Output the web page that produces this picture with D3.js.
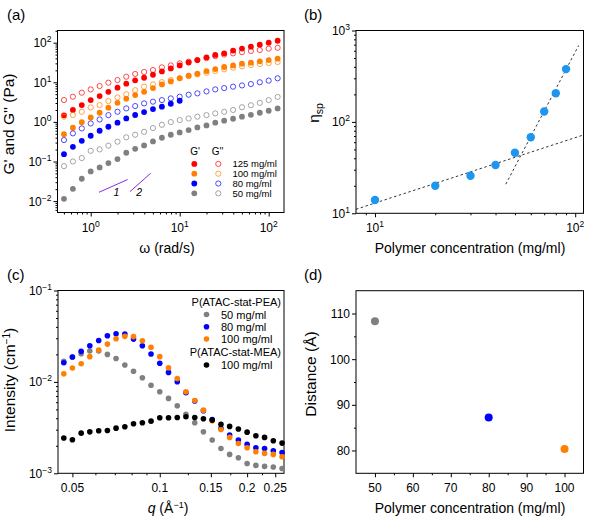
<!DOCTYPE html>
<html><head><meta charset="utf-8">
<script src="https://cdn.jsdelivr.net/npm/d3@7"></script>
<style>
html,body{margin:0;padding:0;background:#fff;}
text{font-family:"Liberation Sans",Arial,sans-serif;fill:#000;}
</style></head>
<body><svg id="fig" width="598" height="519"></svg>
<script>
// ---------- Panel (a) data : rheology ----------
const omega = [0.501,0.631,0.794,1,1.26,1.58,2,2.51,3.16,3.98,5.01,6.31,7.94,10,12.6,15.8,20,25.1,31.6,39.8,50.1,63.1,79.4,100,126];
const gp125  = [1.46,2.0,2.66,3.56,4.49,5.75,7.29,9.2,11.2,13.0,15.5,18.8,22.4,26.7,31.6,36.3,42.7,49.0,53.7,63.1,70.8,79.4,89.1,100,112];
const gpp125 = [3.56,4.32,5.45,6.61,8.04,9.77,11.4,13.8,16.2,18.2,20.4,23.8,26.7,30.1,33.1,36.3,40.7,45.7,50.1,53.7,57.5,61.7,65.3,70.8,74.1];
const gp100  = [0.49,0.71,0.98,1.29,1.70,2.29,3.02,3.85,4.75,5.75,7.14,8.85,10.5,12.6,14.7,16.4,19.2,21.6,24.3,26.7,29.5,31.3,33.9,36.3,39.4];
const gpp100 = [1.35,1.49,1.80,2.32,2.66,3.36,4.15,5.01,6.31,7.73,8.85,10.1,11.4,12.8,14.4,15.8,17.4,19.2,21.2,23.3,25.1,27.2,28.8,30.6,32.4];
const gp80   = [0.153,0.235,0.333,0.447,0.597,0.753,0.955,1.22,1.49,1.77,2.11,2.42,2.87,3.42];
const gpp80  = [0.347,0.513,0.684,0.912,1.15,1.48,1.80,2.19,2.51,2.93,3.24,3.55,3.92,4.32,4.85,5.25,5.89,6.61,7.14,7.73,8.32,9.02,10.0,11.0,12.6];
const gp50   = [0.0114,0.0204,0.0366,0.0562,0.0708,0.0912,0.115,0.166,0.209,0.254,0.321,0.398,0.473,0.542,0.621,0.724,0.813,0.955,1.07,1.20,1.35,1.51,1.70,1.91,2.19];
const gpp50  = [0.0764,0.100,0.122,0.186,0.202,0.251,0.316,0.407,0.473,0.562,0.697,0.845,0.989,1.11,1.22,1.35,1.48,1.64,1.80,2.0,2.34,2.63,3.02,3.55,4.27];
const rheoLabels = ["125 mg/ml","100 mg/ml","80 mg/ml","50 mg/ml"];
const rheoColors = ["#ff0000","#ff8000","#0000ff","#808080"];
// slope guide lines [[omega, modulus],[omega, modulus]]
const slope1 = [[1.24,0.0167],[2.6,0.0350]];
const slope2 = [[2.76,0.0173],[4.72,0.0505]];

// ---------- Panel (b) data : specific viscosity ----------
const concB = [10,20,30,40,50,60,70,80,90];
const etaSp = [14,20,25.8,33.8,46,68,130,206,378];
const fitDilute = [[8.04,11.07],[110,72]];
const fitSemi   = [[45,20.8],[104,685]];

// ---------- Panel (c) data : SAXS ----------
const qVals = [0.0467,0.05,0.0536,0.0574,0.0616,0.066,0.0707,0.0758,0.0812,0.0871,0.0933,0.1,0.1072,0.1149,0.1231,0.132,0.1414,0.1516,0.1625,0.1741,0.1866,0.2,0.2144,0.2297,0.2462,0.2639];
const iPEA50  = [0.0168,0.0187,0.0203,0.0218,0.0218,0.0200,0.0180,0.0153,0.0131,0.0111,0.0092,0.0078,0.0066,0.00548,0.00441,0.00357,0.00284,0.00231,0.00187,0.00161,0.00148,0.00128,0.00122,0.00119,0.00117,0.00113];
const iPEA80  = [0.0162,0.0187,0.0216,0.0249,0.0284,0.0320,0.0336,0.0334,0.0294,0.0249,0.0202,0.0160,0.0127,0.01005,0.0076,0.00617,0.00483,0.00388,0.00310,0.00262,0.00231,0.00207,0.00190,0.00187,0.00176,0.00169];
const iPEA100 = [0.0123,0.0142,0.0158,0.0189,0.0223,0.0259,0.0297,0.0315,0.0313,0.0282,0.0239,0.0189,0.0143,0.0109,0.0078,0.00627,0.00491,0.00376,0.00302,0.00247,0.00212,0.0019,0.00172,0.00165,0.00161,0.00152];
const iMEA100 = [0.00243,0.00233,0.00275,0.00284,0.00292,0.00294,0.00312,0.00323,0.00348,0.00357,0.00372,0.00405,0.00405,0.00408,0.00416,0.00408,0.00395,0.00382,0.00343,0.00326,0.00305,0.00282,0.00258,0.00247,0.00227,0.00214];
const saxsLabels = ["50 mg/ml","80 mg/ml","100 mg/ml","100 mg/ml"];
const saxsColors = ["#808080","#0000ff","#ff8000","#000000"];
const qTicks = [0.05,0.1,0.15,0.2,0.25];
const qTickLabels = ["0.05","0.1","0.15","0.2","0.25"];

// ---------- Panel (d) data : distance ----------
const concD = [50,80,100];
const distance = [108.3,87.2,80.3];
const distColors = ["#808080","#0000ff","#ff8000"];

// ================= drawing =================
const svg = d3.select("#fig");
const FONT_TICK = 12, FONT_TITLE = 14, FONT_YTITLE = 15.5, FONT_LEG = 11;

function box(p){
  svg.append("rect").attr("x",p.x0).attr("y",p.y0).attr("width",p.x1-p.x0).attr("height",p.y1-p.y0)
    .attr("fill","none").attr("stroke","#000").attr("stroke-width",1);
}
function logMinor(domain){
  const out=[]; const lo=Math.floor(Math.log10(domain[0])), hi=Math.ceil(Math.log10(domain[1]));
  for(let e=lo;e<=hi;e++) for(let m=2;m<=9;m++){const v=m*Math.pow(10,e); if(v>=domain[0]&&v<=domain[1]) out.push(v);}
  return out;
}
function supLabel(sel, exp){
  sel.append("tspan").text("10");
  sel.append("tspan").attr("dy",-5).attr("font-size",8.5).text(exp<0?"\u2212"+(-exp):String(exp));
}
function xAxis(p, scale, major, minor, labeler){
  const g = svg.append("g").attr("transform",`translate(0,${p.y1})`);
  g.call(d3.axisBottom(scale).tickValues(major).tickSize(4).tickFormat(""));
  if(minor.length) g.call(gg=>gg.append("g").call(d3.axisBottom(scale).tickValues(minor).tickSize(2).tickFormat("")));
  g.selectAll(".domain").remove();
  g.selectAll("line").attr("stroke","#000");
  major.forEach((v,i)=>{
    const t = svg.append("text").attr("x",scale(v)).attr("y",p.y1+19).attr("text-anchor","middle").attr("font-size",FONT_TICK);
    labeler(t,v,i);
  });
}
function yAxis(p, scale, major, minor, labeler){
  const g = svg.append("g").attr("transform",`translate(${p.x0},0)`);
  g.call(d3.axisLeft(scale).tickValues(major).tickSize(4).tickFormat(""));
  if(minor.length) g.call(gg=>gg.append("g").call(d3.axisLeft(scale).tickValues(minor).tickSize(2).tickFormat("")));
  g.selectAll(".domain").remove();
  g.selectAll("line").attr("stroke","#000");
  major.forEach((v,i)=>{
    const t = svg.append("text").attr("x",p.x0-6).attr("y",scale(v)+4.5).attr("text-anchor","end").attr("font-size",FONT_TICK);
    labeler(t,v,i);
  });
}
function yTitle(x,y,build){
  const t = svg.append("text").attr("transform",`translate(${x},${y}) rotate(-90)`).attr("text-anchor","middle").attr("font-size",FONT_YTITLE);
  build(t);
}
function xTitle(x,y,build){
  const t = svg.append("text").attr("x",x).attr("y",y).attr("text-anchor","middle").attr("font-size",FONT_TITLE);
  build(t);
}
function panelLabel(x,y,s){ svg.append("text").attr("x",x).attr("y",y).attr("font-size",15).text(s); }
const logLab = (t,v)=>supLabel(t,Math.round(Math.log10(v)));

// ---------- (a) ----------
const A = {x0:57.5,x1:284,y0:30.5,y1:212.5};
const xa = d3.scaleLog().domain([0.4236,148.6]).range([A.x0,A.x1]);
const ya = d3.scaleLog().domain([0.00515,203]).range([A.y1,A.y0]);
box(A);
xAxis(A,xa,[1,10,100],logMinor(xa.domain()),logLab);
yAxis(A,ya,[0.01,0.1,1,10,100],logMinor(ya.domain()),logLab);
const rheo = [[gp125,gpp125],[gp100,gpp100],[gp80,gpp80],[gp50,gpp50]];
rheo.forEach(([gp,gpp],k)=>{
  const c = rheoColors[k];
  svg.append("g").selectAll("circle").data(gp).join("circle")
    .attr("cx",(d,i)=>xa(omega[i])).attr("cy",d=>ya(d)).attr("r",2.9).attr("fill",c);
  svg.append("g").selectAll("circle").data(gpp).join("circle")
    .attr("cx",(d,i)=>xa(omega[i])).attr("cy",d=>ya(d)).attr("r",2.6).attr("fill","none").attr("stroke",c).attr("stroke-width",0.7);
});
const line = d3.line();
svg.append("path").attr("d",line(slope1.map(d=>[xa(d[0]),ya(d[1])]))).attr("stroke","#8a2be2").attr("stroke-width",1).attr("fill","none");
svg.append("path").attr("d",line(slope2.map(d=>[xa(d[0]),ya(d[1])]))).attr("stroke","#8a2be2").attr("stroke-width",1).attr("fill","none");
svg.append("text").attr("x",xa(1.95)).attr("y",ya(0.0168)+4).attr("font-size",10.5).attr("font-style","italic").attr("text-anchor","middle").text("1");
svg.append("text").attr("x",xa(3.5)).attr("y",ya(0.0172)+4).attr("font-size",10.5).attr("font-style","italic").attr("text-anchor","middle").text("2");
// legend (a)
const FONT_LEG_A = 9.5;
svg.append("text").attr("x",195).attr("y",154.5).attr("font-size",FONT_LEG_A+0.5).attr("text-anchor","middle").text("G'");
svg.append("text").attr("x",217.5).attr("y",154.5).attr("font-size",FONT_LEG_A+0.5).attr("text-anchor","middle").text("G''");
rheoLabels.forEach((lab,k)=>{
  const yy = 163.9 + k*9.8;
  svg.append("circle").attr("cx",194.3).attr("cy",yy).attr("r",2.9).attr("fill",rheoColors[k]);
  svg.append("circle").attr("cx",218.3).attr("cy",yy).attr("r",2.6).attr("fill","none").attr("stroke",rheoColors[k]).attr("stroke-width",0.7);
  svg.append("text").attr("x",232.5).attr("y",yy+3.4).attr("font-size",FONT_LEG_A).text(lab);
});
yTitle(14,124,t=>t.text("G' and G'' (Pa)"));
xTitle(167,253,t=>t.text("\u03c9 (rad/s)"));
panelLabel(7,20,"(a)");

// ---------- (b) ----------
const B = {x0:356,x1:583.5,y0:30.5,y1:213.3};
const xb = d3.scaleLog().domain([8.04,110]).range([B.x0,B.x1]);
const yb = d3.scaleLog().domain([10,1000]).range([B.y1,B.y0]);
box(B);
xAxis(B,xb,[10,100],logMinor(xb.domain()),logLab);
yAxis(B,yb,[10,100,1000],logMinor(yb.domain()),logLab);
[fitDilute,fitSemi].forEach(f=>{
  svg.append("path").attr("d",line(f.map(d=>[xb(d[0]),yb(d[1])]))).attr("stroke","#000").attr("stroke-width",0.8)
    .attr("stroke-dasharray","2.5,2.5").attr("fill","none");
});
svg.append("g").selectAll("circle").data(etaSp).join("circle")
  .attr("cx",(d,i)=>xb(concB[i])).attr("cy",d=>yb(d)).attr("r",4.2).attr("fill","#1e96f0");
yTitle(319,113,t=>{t.append("tspan").text("\u03b7"); t.append("tspan").attr("dy",4).attr("font-size",10.5).text("sp");});
xTitle(470,253,t=>t.text("Polymer concentration (mg/ml)"));
panelLabel(304,20,"(b)");

// ---------- (c) ----------
const C = {x0:58,x1:284,y0:290.5,y1:473.3};
const xc = d3.scaleLog().domain([0.0446,0.268]).range([C.x0,C.x1]);
const yc = d3.scaleLog().domain([0.001,0.1]).range([C.y1,C.y0]);
box(C);
xAxis(C,xc,qTicks,[0.06,0.07,0.08,0.09,0.125,0.175,0.225],(t,v,i)=>t.text(qTickLabels[i]));
yAxis(C,yc,[0.001,0.01,0.1],logMinor(yc.domain()),logLab);
[iPEA50,iPEA80,iPEA100,iMEA100].forEach((s,k)=>{
  svg.append("g").selectAll("circle").data(s).join("circle")
    .attr("cx",(d,i)=>xc(qVals[i])).attr("cy",d=>yc(d)).attr("r",2.8).attr("fill",saxsColors[k]);
});
svg.append("text").attr("x",281).attr("y",306).attr("font-size",FONT_LEG).attr("text-anchor","end").text("P(ATAC-stat-PEA)");
svg.append("text").attr("x",281).attr("y",355.5).attr("font-size",FONT_LEG).attr("text-anchor","end").text("P(ATAC-stat-MEA)");
const legYs = [314.5,326.8,339,365];
saxsLabels.forEach((lab,k)=>{
  svg.append("circle").attr("cx",206.5).attr("cy",legYs[k]).attr("r",2.8).attr("fill",saxsColors[k]);
  svg.append("text").attr("x",221).attr("y",legYs[k]+4).attr("font-size",FONT_LEG).text(lab);
});
yTitle(15,380,t=>{t.append("tspan").text("Intensity (cm"); t.append("tspan").attr("dy",-5).attr("font-size",10).text("\u22121"); t.append("tspan").attr("dy",5).text(")");});
xTitle(168,513,t=>{t.append("tspan").attr("font-style","italic").text("q"); t.append("tspan").text(" (\u00c5"); t.append("tspan").attr("dy",-5).attr("font-size",9).text("\u22121"); t.append("tspan").attr("dy",5).text(")");});
panelLabel(7,280,"(c)");

// ---------- (d) ----------
const D = {x0:356,x1:583.5,y0:290.7,y1:473.3};
const xd = d3.scaleLinear().domain([45,105]).range([D.x0,D.x1]);
const yd = d3.scaleLinear().domain([75,115]).range([D.y1,D.y0]);
box(D);
xAxis(D,xd,[50,60,70,80,90,100],[55,65,75,85,95],(t,v)=>t.text(v));
yAxis(D,yd,[80,90,100,110],[85,95,105],(t,v)=>t.text(v));
svg.append("g").selectAll("circle").data(distance).join("circle")
  .attr("cx",(d,i)=>xd(concD[i])).attr("cy",d=>yd(d)).attr("r",4).attr("fill",(d,i)=>distColors[i]);
yTitle(316,374,t=>t.text("Distance (\u00c5)"));
xTitle(470,513,t=>t.text("Polymer concentration (mg/ml)"));
panelLabel(304,280,"(d)");
</script></body></html>
